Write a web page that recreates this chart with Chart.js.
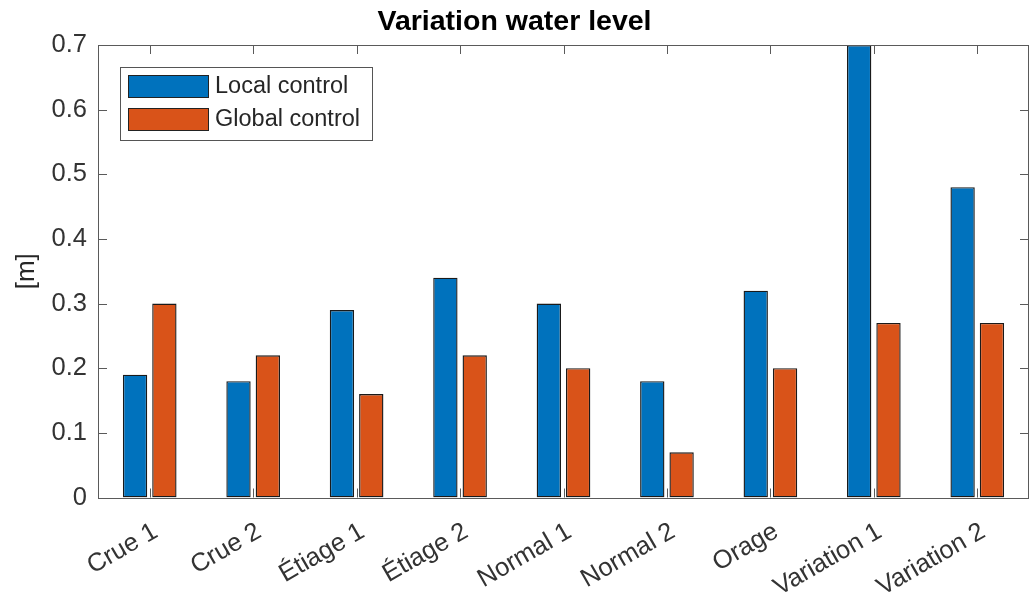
<!DOCTYPE html>
<html>
<head>
<meta charset="utf-8">
<script src="https://cdn.jsdelivr.net/npm/chart.js@4.4.0/dist/chart.umd.min.js"></script>
<style>
  body { margin: 0; background: #fff; }
  canvas { display: block; }
</style>
</head>
<body>
<canvas id="chart" width="1031" height="594"></canvas>
<script>
const categories = ['Crue 1', 'Crue 2', 'Étiage 1', 'Étiage 2', 'Normal 1', 'Normal 2', 'Orage', 'Variation 1', 'Variation 2']
const localControl = [0.19, 0.18, 0.29, 0.34, 0.30, 0.18, 0.32, 0.70, 0.48]
const globalControl = [0.30, 0.22, 0.16, 0.22, 0.20, 0.07, 0.20, 0.27, 0.27]
const yTicks = [0, 0.1, 0.2, 0.3, 0.4, 0.5, 0.6, 0.7]

const FONT = "'Liberation Sans', Arial, Helvetica, sans-serif"
const AXIS_COLOR = '#5a5a5a'

// MATLAB style box with ticks pointing inwards, plus the legend inside the axes
const matlabBox = {
  id: 'matlabBox',
  afterDatasetsDraw(chart) {
    const { ctx, chartArea: a, scales } = chart
    const len = 9
    ctx.save()
    ctx.strokeStyle = AXIS_COLOR
    ctx.lineWidth = 1
    ctx.beginPath()
    scales.x.ticks.forEach((t, i) => {
      const px = Math.round(scales.x.getPixelForTick(i)) + 0.5
      ctx.moveTo(px, a.bottom); ctx.lineTo(px, a.bottom - len)
      ctx.moveTo(px, a.top); ctx.lineTo(px, a.top + len)
    })
    yTicks.forEach(v => {
      const py = Math.round(scales.y.getPixelForValue(v)) + 0.5
      ctx.moveTo(a.left, py); ctx.lineTo(a.left + len, py)
      ctx.moveTo(a.right, py); ctx.lineTo(a.right - len, py)
    })
    ctx.stroke()
    ctx.strokeRect(Math.round(a.left) + 0.5, Math.round(a.top) + 0.5,
      Math.round(a.right - a.left) - 1, Math.round(a.bottom - a.top))

    // legend
    const bx = a.left + 22, by = a.top + 22, bw = 252, bh = 73
    ctx.fillStyle = '#fff'
    ctx.fillRect(bx, by, bw, bh)
    ctx.strokeStyle = '#555'
    ctx.strokeRect(bx + 0.5, by + 0.5, bw, bh)
    ctx.font = '23.5px ' + FONT
    ctx.textBaseline = 'middle'
    chart.data.datasets.forEach((ds, i) => {
      const sy = by + 8 + i * 33
      ctx.fillStyle = ds.backgroundColor
      ctx.fillRect(bx + 8, sy, 81, 23)
      ctx.strokeStyle = '#222'
      ctx.strokeRect(bx + 8.5, sy + 0.5, 80, 22)
      ctx.fillStyle = '#262626'
      ctx.fillText(ds.label, bx + 95, sy + 12)
    })
    ctx.restore()
  }
}

new Chart(document.getElementById('chart'), {
  type: 'bar',
  data: {
    labels: categories,
    datasets: [
      {
        label: 'Local control',
        data: localControl,
        backgroundColor: '#0072BD',
        borderColor: '#1a1a1a',
        borderWidth: 1.4,
        borderSkipped: false,
        categoryPercentage: 0.567,
        barPercentage: 0.83
      },
      {
        label: 'Global control',
        data: globalControl,
        backgroundColor: '#D95319',
        borderColor: '#1a1a1a',
        borderWidth: 1.4,
        borderSkipped: false,
        categoryPercentage: 0.567,
        barPercentage: 0.83
      }
    ]
  },
  options: {
    responsive: false,
    animation: false,
    devicePixelRatio: 1,
    layout: { padding: { left: 0, right: 2, top: 0, bottom: 0 } },
    plugins: {
      legend: { display: false },
      tooltip: { enabled: false },
      title: {
        display: true,
        text: 'Variation water level',
        color: '#000',
        font: { family: FONT, size: 28.5, weight: 'bold' },
        padding: { top: 5, bottom: 5.8 }
      }
    },
    scales: {
      x: {
        grid: { display: false, drawTicks: false },
        border: { display: false },
        ticks: {
          color: '#333',
          font: { family: FONT, size: 25.5 },
          minRotation: 30,
          maxRotation: 30,
          padding: 19,
          labelOffset: 6,
          autoSkip: false
        },
        afterFit: s => { s.height = 96.5 }
      },
      y: {
        min: 0,
        max: 0.7,
        grid: { display: false, drawTicks: false },
        border: { display: false },
        afterBuildTicks: s => { s.ticks = yTicks.map(v => ({ value: v })) },
        ticks: {
          color: '#333',
          font: { family: FONT, size: 25.5 },
          padding: 11,
          callback: v => String(v)
        },
        title: {
          display: true,
          text: '[m]',
          color: '#262626',
          font: { family: FONT, size: 26 },
          padding: { top: 11, bottom: 0 }
        },
        afterFit: s => { s.width = 98 }
      }
    }
  },
  plugins: [matlabBox]
})
</script>
</body>
</html>
